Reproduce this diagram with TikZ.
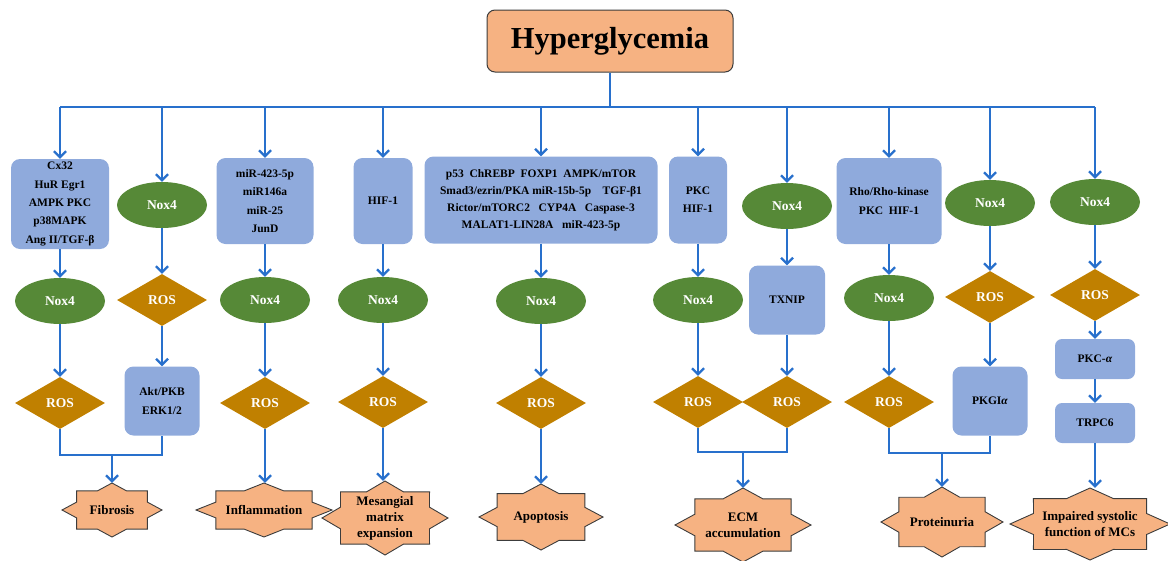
\documentclass[tikz,border=0pt]{standalone}
\usepackage{fontspec}
\setmainfont{Liberation Serif}
\usetikzlibrary{shapes.geometric,arrows.meta}
\definecolor{lnblue}{RGB}{40,112,204}
\definecolor{boxblue}{RGB}{143,170,220}
\definecolor{noxgreen}{RGB}{86,137,55}
\definecolor{rosgold}{RGB}{192,128,0}
\definecolor{peach}{RGB}{246,178,130}
\definecolor{edgegray}{RGB}{60,60,60}
\tikzset{
  ln/.style={draw=lnblue, line width=2.2pt},
  arr/.style={ln, -{Straight Barb[length=6pt,width=12pt]}},
  pbox/.style={rectangle, rounded corners=9pt, fill=boxblue, text=black, inner sep=0pt, align=center,
    font=\bfseries\fontsize{11.5}{18.3}\selectfont},
  bigbox/.style={pbox, font=\bfseries\fontsize{11.5}{17}\selectfont},
  nox/.style={ellipse, fill=noxgreen, text=white, minimum width=90pt, minimum height=46pt, inner sep=0pt,
    font=\bfseries\fontsize{13.5}{16}\selectfont},
  ros/.style={diamond, fill=rosgold, text=white, minimum width=90pt, minimum height=52pt, inner sep=0pt,
    font=\bfseries\fontsize{13.5}{16}\selectfont},
  burstline/.style={draw=edgegray, fill=peach, line width=0.9pt, line join=miter},
  bursttext/.style={rectangle, inner sep=0pt, align=center, text=black,
    font=\bfseries\fontsize{13}{16}\selectfont},
  hypbox/.style={rectangle, rounded corners=8pt, draw=edgegray, line width=1pt, fill=peach, inner sep=0pt,
    font=\bfseries\fontsize{30.5}{36}\selectfont},
}
% name, x, y, a, b, text
\newcommand{\burstnode}[6]{%
  \begin{scope}[shift={(#2,#3)}, xscale=#4, yscale=#5]
    \draw[burstline] (0:1) \foreach \k in {0,...,7}{ -- ({\k*45+22.5}:0.765) -- ({\k*45+45}:1) } -- cycle;
  \end{scope}
  \node[bursttext, minimum width={2*#4pt}, minimum height={2*#5pt}] (#1) at (#2,#3) {#6};
}
\begin{document}
\begin{tikzpicture}[x=1pt, y=-1pt]
\useasboundingbox (0,0) rectangle (1168,560);

% top
\node[hypbox, minimum width=246pt, minimum height=62pt] (hyp) at (610,41) {Hyperglycemia};
\coordinate (busL) at (60,107);
\coordinate (busR) at (1095,107);
\draw[ln] (busL) -- (busR);
\draw[ln] (hyp.south) -- (hyp.south |- busL);

% column 1
\node[pbox, minimum width=98pt, minimum height=90pt] (b1) at (60,204) {Cx32\\HuR Egr1\\AMPK PKC\\p38MAPK\\Ang II/TGF-β};
\node[nox] (n1) at (60,301) {Nox4};
\node[ros] (r1) at (60,403) {ROS};
% column 2
\node[nox] (n2) at (162,205) {Nox4};
\node[ros] (r2) at (162,300) {ROS};
\node[pbox, minimum width=75pt, minimum height=69pt] (akt) at (162,401) {Akt/PKB\\ERK1/2};
% column 3
\node[pbox, minimum width=97pt, minimum height=86pt] (b3) at (265,201) {miR-423-5p\\miR146a\\miR-25\\JunD};
\node[nox] (n3) at (265,300) {Nox4};
\node[ros] (r3) at (265,403) {ROS};
% column 4
\node[pbox, minimum width=59pt, minimum height=86pt] (b4) at (383,201) {HIF-1};
\node[nox] (n4) at (383,300) {Nox4};
\node[ros] (r4) at (383,402) {ROS};
% column 5
\node[bigbox, minimum width=233pt, minimum height=87pt] (b5) at (541,200)
  {p53\ \ ChREBP\ \ FOXP1\ \ AMPK/mTOR\\Smad3/ezrin/PKA miR-15b-5p\ \ \ \ TGF-β1\\Rictor/mTORC2\ \ \ CYP4A\ \ \ Caspase-3\\MALAT1-LIN28A\ \ \ miR-423-5p};
\node[nox] (n5) at (541,301) {Nox4};
\node[ros] (r5) at (541,403) {ROS};
% column 6
\node[pbox, minimum width=58pt, minimum height=87pt] (b6) at (698,200) {PKC\\HIF-1};
\node[nox] (n6) at (698,300) {Nox4};
\node[ros] (r6) at (698,402) {ROS};
% column 7
\node[nox] (n7) at (787,206) {Nox4};
\node[pbox, minimum width=76pt, minimum height=69pt] (tx) at (787,300) {TXNIP};
\node[ros] (r7) at (787,402) {ROS};
% column 8
\node[pbox, minimum width=105pt, minimum height=86pt] (b8) at (889,201) {Rho/Rho-kinase\\PKC\ \ HIF-1};
\node[nox] (n8) at (889,298) {Nox4};
\node[ros] (r8) at (889,402) {ROS};
% column 9
\node[nox] (n9) at (990,203) {Nox4};
\node[ros] (r9) at (990,297) {ROS};
\node[pbox, minimum width=75pt, minimum height=69pt] (pkg) at (990,401) {PKGI\textit{α}};
% column 10
\node[nox] (n10) at (1095,202) {Nox4};
\node[ros] (r10) at (1095,295) {ROS};
\node[pbox, rounded corners=7pt, minimum width=80pt, minimum height=40pt] (pkca) at (1095,359) {PKC-\textit{α}};
\node[pbox, rounded corners=7pt, minimum width=80pt, minimum height=40pt] (trpc) at (1095,423) {TRPC6};

% outcomes
\burstnode{fib}{112}{510}{50}{27}{Fibrosis}
\burstnode{infl}{264}{510}{68}{27}{Inflammation}
\burstnode{meso}{385}{518}{63}{37}{Mesangial\\matrix\\expansion}
\burstnode{apop}{541}{517}{62}{33}{Apoptosis}
\burstnode{ecm}{743}{525}{68}{37}{ECM\\accumulation}
\burstnode{prot}{942}{522}{61}{35}{Proteinuria}
\burstnode{imp}{1090}{524}{80}{36}{Impaired systolic\\function of MCs}

% bus drops
\foreach \t in {b1,n2,b3,b4,b5,b6,n7,b8,n9,n10}
  \draw[arr] (\t.north |- busL) -- (\t.north);

% chains
\draw[arr] (b1) -- (n1);
\draw[arr] (n1) -- (r1);
\draw[arr] (n2) -- (r2);
\draw[arr] (r2) -- (akt);
\draw[arr] (b3) -- (n3);
\draw[arr] (n3) -- (r3);
\draw[arr] (b4) -- (n4);
\draw[arr] (n4) -- (r4);
\draw[arr] (b5) -- (n5);
\draw[arr] (n5) -- (r5);
\draw[arr] (b6) -- (n6);
\draw[arr] (n6) -- (r6);
\draw[arr] (n7) -- (tx);
\draw[arr] (tx) -- (r7);
\draw[arr] (b8) -- (n8);
\draw[arr] (n8) -- (r8);
\draw[arr] (n9) -- (r9);
\draw[arr] (r9) -- (pkg);
\draw[arr] (n10) -- (r10);
\draw[arr] (r10) -- (pkca);
\draw[arr] (pkca) -- (trpc);

% joins and outcomes
\coordinate (j1) at (112,455);
\draw[ln] (r1.south) -- (r1.south |- j1) -- (akt.south |- j1) -- (akt.south);
\draw[arr] (fib.north |- j1) -- (fib.north);
\draw[arr] (r3.south) -- (r3.south |- infl.north);
\draw[arr] (r4.south) -- (r4.south |- meso.north);
\draw[arr] (r5.south) -- (apop.north);
\coordinate (j2) at (743,452);
\draw[ln] (r6.south) -- (r6.south |- j2) -- (r7.south |- j2) -- (r7.south);
\draw[arr] (ecm.north |- j2) -- (ecm.north);
\coordinate (j3) at (942,453);
\draw[ln] (r8.south) -- (r8.south |- j3) -- (pkg.south |- j3) -- (pkg.south);
\draw[arr] (prot.north |- j3) -- (prot.north);
\draw[arr] (trpc.south) -- (trpc.south |- imp.north);
\end{tikzpicture}
\end{document}
